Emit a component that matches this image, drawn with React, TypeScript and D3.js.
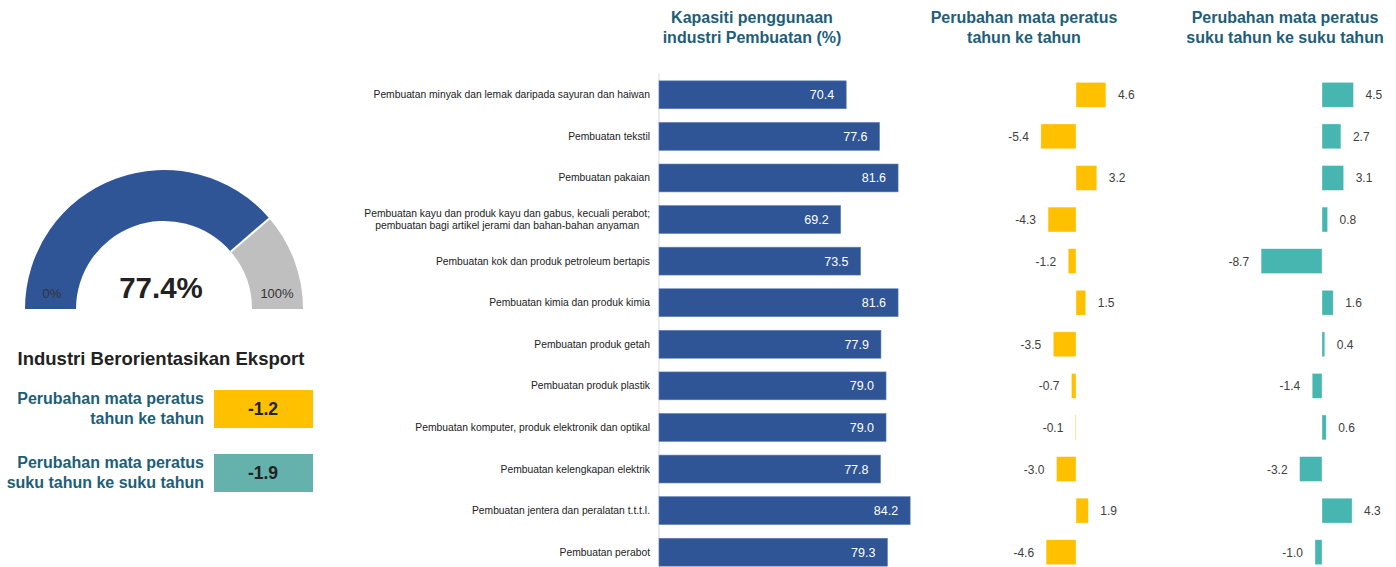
import React, { useRef, useEffect } from 'react';
import * as d3 from 'd3';

// industries, top to bottom
const categories = [
  ['Pembuatan minyak dan lemak daripada sayuran dan haiwan'],
  ['Pembuatan tekstil'],
  ['Pembuatan pakaian'],
  ['Pembuatan kayu dan produk kayu dan gabus, kecuali perabot;', 'pembuatan bagi artikel jerami dan bahan-bahan anyaman'],
  ['Pembuatan kok dan produk petroleum bertapis'],
  ['Pembuatan kimia dan produk kimia'],
  ['Pembuatan produk getah'],
  ['Pembuatan produk plastik'],
  ['Pembuatan komputer, produk elektronik dan optikal'],
  ['Pembuatan kelengkapan elektrik'],
  ['Pembuatan jentera dan peralatan t.t.t.l.'],
  ['Pembuatan perabot'],
];
const capacity = [70.4, 77.6, 81.6, 69.2, 73.5, 81.6, 77.9, 79.0, 79.0, 77.8, 84.2, 79.3];
const yoyChange = [4.6, -5.4, 3.2, -4.3, -1.2, 1.5, -3.5, -0.7, -0.1, -3.0, 1.9, -4.6];
const qoqChange = [4.5, 2.7, 3.1, 0.8, -8.7, 1.6, 0.4, -1.4, 0.6, -3.2, 4.3, -1.0];

// export oriented summary
const gaugeValue = 77.4;
const gaugeLabels = ['0%', '100%'];
const summaryTitle = 'Industri Berorientasikan Eksport';
const summaryRows = [
  { label: ['Perubahan mata peratus', 'tahun ke tahun'], value: -1.2 },
  { label: ['Perubahan mata peratus', 'suku tahun ke suku tahun'], value: -1.9 },
];

const headers = [
  ['Kapasiti penggunaan', 'industri Pembuatan (%)'],
  ['Perubahan mata peratus', 'tahun ke tahun'],
  ['Perubahan mata peratus', 'suku tahun ke suku tahun'],
];

const W = 1396;
const H = 567;
const FONT = '"Liberation Sans", Arial, sans-serif';
const BLUE = '#2F5597';
const YELLOW = '#FFC000';
const TEAL = '#47B5B0';
const TEAL_BOX = '#65B2AD';
const HEAD = '#1D5E7A';

const App = () => {
  const svgRef = useRef<SVGSVGElement>(null);

  useEffect(() => {
    const svg = d3.select(svgRef.current);
    svg.selectAll('*').remove();

    const idx = capacity.map((_, i) => i);
    const y = d3.scaleBand<number>().domain(idx).range([74, 573]).paddingInner(0.33).paddingOuter(0.165);
    const bh = y.bandwidth();

    // headers
    const headerX = [752, 1024, 1285];
    headers.forEach((lines, h) => {
      lines.forEach((t, k) => {
        svg.append('text')
          .attr('x', headerX[h]).attr('y', 23 + k * 20)
          .attr('text-anchor', 'middle')
          .attr('font-family', FONT).attr('font-weight', 'bold').attr('font-size', 16)
          .attr('fill', HEAD).text(t);
      });
    });

    // main capacity bars
    const x = d3.scaleLinear().domain([30, 90]).range([659, 937]);
    svg.append('line')
      .attr('x1', x(30)).attr('x2', x(30)).attr('y1', 73).attr('y2', H)
      .attr('stroke', '#D9D9D9').attr('stroke-width', 1);

    const g = svg.append('g');
    g.selectAll('rect.cap').data(capacity).join('rect')
      .attr('class', 'cap')
      .attr('x', x(30)).attr('y', (_, i) => y(i)!)
      .attr('width', d => x(d) - x(30)).attr('height', bh)
      .attr('fill', BLUE).attr('stroke', '#5B7DB8').attr('stroke-width', 0.6);
    g.selectAll('text.capv').data(capacity).join('text')
      .attr('class', 'capv')
      .attr('x', d => x(d) - 12).attr('y', (_, i) => y(i)! + bh / 2 + 4.5)
      .attr('text-anchor', 'end')
      .attr('font-family', FONT).attr('font-size', 12.5).attr('fill', '#fff')
      .text(d => d.toFixed(1));

    // category labels
    categories.forEach((lines, i) => {
      const cy = y(i)! + bh / 2;
      if (lines.length === 1) {
        svg.append('text')
          .attr('x', 650).attr('y', cy + 3.5).attr('text-anchor', 'end')
          .attr('font-family', FONT).attr('font-size', 10.3).attr('fill', '#222')
          .text(lines[0]);
      } else {
        const grp = svg.append('g');
        const texts = lines.map((t, k) =>
          grp.append('text')
            .attr('y', cy - 2.5 + k * 12)
            .attr('text-anchor', 'middle')
            .attr('font-family', FONT).attr('font-size', 10.3).attr('fill', '#222')
            .text(t));
        const maxW = d3.max(texts, t => (t.node() as SVGTextElement).getComputedTextLength()) || 0;
        texts.forEach(t => t.attr('x', 650 - maxW / 2));
      }
    });

    // change bars
    const drawChange = (vals: number[], zero: number, pxPerUnit: number, color: string) => {
      const xs = d3.scaleLinear().domain([0, 1]).range([zero, zero + pxPerUnit]);
      const cg = svg.append('g');
      cg.selectAll('rect').data(vals).join('rect')
        .attr('x', d => Math.min(xs(0), xs(d))).attr('y', (_, i) => y(i)! + 1.5)
        .attr('width', d => Math.abs(xs(d) - xs(0))).attr('height', bh - 3)
        .attr('fill', color).attr('stroke', '#fff').attr('stroke-width', 0.6).attr('stroke-opacity', 0.6);
      cg.selectAll('text').data(vals).join('text')
        .attr('x', d => (d >= 0 ? xs(d) + 12 : xs(d) - 12))
        .attr('y', (_, i) => y(i)! + bh / 2 + 4.5)
        .attr('text-anchor', d => (d >= 0 ? 'start' : 'end'))
        .attr('font-family', FONT).attr('font-size', 12).attr('fill', '#404040')
        .text(d => d.toFixed(1));
    };
    drawChange(yoyChange, 1076, 6.5, YELLOW);
    drawChange(qoqChange, 1322, 7.0, TEAL);

    // gauge
    const cx = 164;
    const cy = 309;
    const arc = d3.arc<{ s: number; e: number }>()
      .innerRadius(88).outerRadius(139)
      .startAngle(d => d.s).endAngle(d => d.e);
    const ang = d3.scaleLinear().domain([0, 100]).range([-Math.PI / 2, Math.PI / 2]);
    const gg = svg.append('g').attr('transform', `translate(${cx},${cy})`);
    gg.append('path').attr('d', arc({ s: ang(gaugeValue), e: ang(100) })!).attr('fill', '#BFBFBF');
    gg.append('path').attr('d', arc({ s: ang(0), e: ang(gaugeValue) })!).attr('fill', BLUE);
    const a = ang(gaugeValue);
    gg.append('line')
      .attr('x1', 88 * Math.sin(a)).attr('y1', -88 * Math.cos(a))
      .attr('x2', 140 * Math.sin(a)).attr('y2', -140 * Math.cos(a))
      .attr('stroke', '#fff').attr('stroke-width', 2);
    gg.append('text').attr('x', -3).attr('y', -11).attr('text-anchor', 'middle')
      .attr('font-family', FONT).attr('font-weight', 'bold').attr('font-size', 29.5).attr('fill', '#222')
      .text(`${gaugeValue.toFixed(1)}%`);
    gg.append('text').attr('x', -112).attr('y', -11).attr('text-anchor', 'middle')
      .attr('font-family', FONT).attr('font-size', 13).attr('fill', '#333').text(gaugeLabels[0]);
    gg.append('text').attr('x', 113).attr('y', -11).attr('text-anchor', 'middle')
      .attr('font-family', FONT).attr('font-size', 13).attr('fill', '#333').text(gaugeLabels[1]);

    // summary
    svg.append('text').attr('x', 161).attr('y', 365).attr('text-anchor', 'middle')
      .attr('font-family', FONT).attr('font-weight', 'bold').attr('font-size', 18.5).attr('fill', '#222')
      .text(summaryTitle);
    summaryRows.forEach((r, i) => {
      const top = 390 + i * 64;
      r.label.forEach((t, k) => {
        svg.append('text').attr('x', 204).attr('y', top + 14 + k * 20).attr('text-anchor', 'end')
          .attr('font-family', FONT).attr('font-weight', 'bold').attr('font-size', 16).attr('fill', HEAD)
          .text(t);
      });
      svg.append('rect').attr('x', 214).attr('y', top).attr('width', 99).attr('height', 38)
        .attr('fill', i === 0 ? YELLOW : TEAL_BOX);
      svg.append('text').attr('x', 263).attr('y', top + 25).attr('text-anchor', 'middle')
        .attr('font-family', FONT).attr('font-weight', 'bold').attr('font-size', 17.5).attr('fill', '#222')
        .text(r.value.toFixed(1));
    });
  }, []);

  return (
    <svg ref={svgRef} width={W} height={H}
      style={{ position: 'absolute', left: 0, top: 0, background: '#fff' }} />
  );
};

export default App;
